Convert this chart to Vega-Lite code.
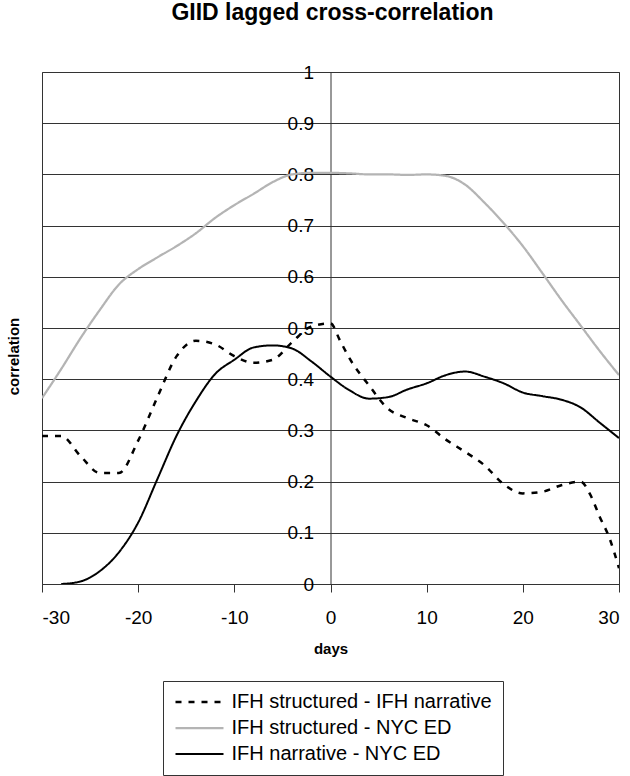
{
  "$schema": "https://vega.github.io/schema/vega-lite/v6.json",
  "autosize": {"type": "none"},
  "width": 577,
  "height": 512,
  "padding": {"left": 42, "top": 72, "right": 11, "bottom": 192},
  "background": "#ffffff",
  "config": {
    "font": "Liberation Sans",
    "view": {"stroke": "#333333", "strokeWidth": 1},
    "axis": {"labelFont": "Liberation Sans", "titleFont": "Liberation Sans", "labelColor": "#000", "titleColor": "#000"}
  },
  "title": {
    "text": "GIID lagged cross-correlation",
    "font": "Liberation Sans",
    "fontSize": 23,
    "fontWeight": "bold",
    "color": "#000",
    "anchor": "middle",
    "offset": 38,
    "dx": 2
  },
  "data": {
    "values": [
      {"day": -30, "r": 0.289, "series": "IFH structured - IFH narrative"},
      {"day": -28, "r": 0.289, "series": "IFH structured - IFH narrative"},
      {"day": -26, "r": 0.25, "series": "IFH structured - IFH narrative"},
      {"day": -24, "r": 0.217, "series": "IFH structured - IFH narrative"},
      {"day": -22, "r": 0.217, "series": "IFH structured - IFH narrative"},
      {"day": -20, "r": 0.28, "series": "IFH structured - IFH narrative"},
      {"day": -18, "r": 0.365, "series": "IFH structured - IFH narrative"},
      {"day": -16, "r": 0.445, "series": "IFH structured - IFH narrative"},
      {"day": -14, "r": 0.475, "series": "IFH structured - IFH narrative"},
      {"day": -12, "r": 0.468, "series": "IFH structured - IFH narrative"},
      {"day": -10, "r": 0.445, "series": "IFH structured - IFH narrative"},
      {"day": -8, "r": 0.432, "series": "IFH structured - IFH narrative"},
      {"day": -6, "r": 0.438, "series": "IFH structured - IFH narrative"},
      {"day": -4, "r": 0.472, "series": "IFH structured - IFH narrative"},
      {"day": -2, "r": 0.503, "series": "IFH structured - IFH narrative"},
      {"day": 0, "r": 0.509, "series": "IFH structured - IFH narrative"},
      {"day": 1, "r": 0.475, "series": "IFH structured - IFH narrative"},
      {"day": 2, "r": 0.44, "series": "IFH structured - IFH narrative"},
      {"day": 4, "r": 0.388, "series": "IFH structured - IFH narrative"},
      {"day": 6, "r": 0.342, "series": "IFH structured - IFH narrative"},
      {"day": 8, "r": 0.324, "series": "IFH structured - IFH narrative"},
      {"day": 10, "r": 0.31, "series": "IFH structured - IFH narrative"},
      {"day": 12, "r": 0.282, "series": "IFH structured - IFH narrative"},
      {"day": 14, "r": 0.258, "series": "IFH structured - IFH narrative"},
      {"day": 16, "r": 0.232, "series": "IFH structured - IFH narrative"},
      {"day": 18, "r": 0.195, "series": "IFH structured - IFH narrative"},
      {"day": 20, "r": 0.177, "series": "IFH structured - IFH narrative"},
      {"day": 22, "r": 0.18, "series": "IFH structured - IFH narrative"},
      {"day": 24, "r": 0.193, "series": "IFH structured - IFH narrative"},
      {"day": 26, "r": 0.2, "series": "IFH structured - IFH narrative"},
      {"day": 27, "r": 0.175, "series": "IFH structured - IFH narrative"},
      {"day": 28, "r": 0.131, "series": "IFH structured - IFH narrative"},
      {"day": 29, "r": 0.09, "series": "IFH structured - IFH narrative"},
      {"day": 30, "r": 0.031, "series": "IFH structured - IFH narrative"},

      {"day": -30, "r": 0.363, "series": "IFH structured - NYC ED"},
      {"day": -28, "r": 0.42, "series": "IFH structured - NYC ED"},
      {"day": -26, "r": 0.48, "series": "IFH structured - NYC ED"},
      {"day": -24, "r": 0.535, "series": "IFH structured - NYC ED"},
      {"day": -22, "r": 0.585, "series": "IFH structured - NYC ED"},
      {"day": -20, "r": 0.615, "series": "IFH structured - NYC ED"},
      {"day": -18, "r": 0.638, "series": "IFH structured - NYC ED"},
      {"day": -16, "r": 0.66, "series": "IFH structured - NYC ED"},
      {"day": -14, "r": 0.685, "series": "IFH structured - NYC ED"},
      {"day": -12, "r": 0.715, "series": "IFH structured - NYC ED"},
      {"day": -10, "r": 0.74, "series": "IFH structured - NYC ED"},
      {"day": -8, "r": 0.762, "series": "IFH structured - NYC ED"},
      {"day": -6, "r": 0.785, "series": "IFH structured - NYC ED"},
      {"day": -4, "r": 0.8, "series": "IFH structured - NYC ED"},
      {"day": -2, "r": 0.803, "series": "IFH structured - NYC ED"},
      {"day": 0, "r": 0.803, "series": "IFH structured - NYC ED"},
      {"day": 2, "r": 0.802, "series": "IFH structured - NYC ED"},
      {"day": 4, "r": 0.8, "series": "IFH structured - NYC ED"},
      {"day": 6, "r": 0.8, "series": "IFH structured - NYC ED"},
      {"day": 8, "r": 0.799, "series": "IFH structured - NYC ED"},
      {"day": 10, "r": 0.8, "series": "IFH structured - NYC ED"},
      {"day": 12, "r": 0.797, "series": "IFH structured - NYC ED"},
      {"day": 14, "r": 0.78, "series": "IFH structured - NYC ED"},
      {"day": 16, "r": 0.745, "series": "IFH structured - NYC ED"},
      {"day": 18, "r": 0.705, "series": "IFH structured - NYC ED"},
      {"day": 20, "r": 0.66, "series": "IFH structured - NYC ED"},
      {"day": 22, "r": 0.608, "series": "IFH structured - NYC ED"},
      {"day": 24, "r": 0.555, "series": "IFH structured - NYC ED"},
      {"day": 26, "r": 0.505, "series": "IFH structured - NYC ED"},
      {"day": 28, "r": 0.455, "series": "IFH structured - NYC ED"},
      {"day": 30, "r": 0.408, "series": "IFH structured - NYC ED"},

      {"day": -28, "r": 0.0, "series": "IFH narrative - NYC ED"},
      {"day": -26, "r": 0.005, "series": "IFH narrative - NYC ED"},
      {"day": -24, "r": 0.025, "series": "IFH narrative - NYC ED"},
      {"day": -22, "r": 0.062, "series": "IFH narrative - NYC ED"},
      {"day": -20, "r": 0.12, "series": "IFH narrative - NYC ED"},
      {"day": -18, "r": 0.205, "series": "IFH narrative - NYC ED"},
      {"day": -16, "r": 0.29, "series": "IFH narrative - NYC ED"},
      {"day": -14, "r": 0.357, "series": "IFH narrative - NYC ED"},
      {"day": -12, "r": 0.41, "series": "IFH narrative - NYC ED"},
      {"day": -10, "r": 0.438, "series": "IFH narrative - NYC ED"},
      {"day": -8, "r": 0.462, "series": "IFH narrative - NYC ED"},
      {"day": -6, "r": 0.466, "series": "IFH narrative - NYC ED"},
      {"day": -4, "r": 0.46, "series": "IFH narrative - NYC ED"},
      {"day": -2, "r": 0.435, "series": "IFH narrative - NYC ED"},
      {"day": 0, "r": 0.405, "series": "IFH narrative - NYC ED"},
      {"day": 2, "r": 0.378, "series": "IFH narrative - NYC ED"},
      {"day": 4, "r": 0.362, "series": "IFH narrative - NYC ED"},
      {"day": 6, "r": 0.365, "series": "IFH narrative - NYC ED"},
      {"day": 8, "r": 0.38, "series": "IFH narrative - NYC ED"},
      {"day": 10, "r": 0.392, "series": "IFH narrative - NYC ED"},
      {"day": 12, "r": 0.408, "series": "IFH narrative - NYC ED"},
      {"day": 14, "r": 0.415, "series": "IFH narrative - NYC ED"},
      {"day": 16, "r": 0.405, "series": "IFH narrative - NYC ED"},
      {"day": 18, "r": 0.392, "series": "IFH narrative - NYC ED"},
      {"day": 20, "r": 0.374, "series": "IFH narrative - NYC ED"},
      {"day": 22, "r": 0.367, "series": "IFH narrative - NYC ED"},
      {"day": 24, "r": 0.36, "series": "IFH narrative - NYC ED"},
      {"day": 26, "r": 0.345, "series": "IFH narrative - NYC ED"},
      {"day": 28, "r": 0.315, "series": "IFH narrative - NYC ED"},
      {"day": 30, "r": 0.285, "series": "IFH narrative - NYC ED"}
    ]
  },
  "mark": {"type": "line", "interpolate": "monotone", "clip": true},
  "encoding": {
    "x": {
      "field": "day", "type": "quantitative",
      "scale": {"domain": [-30, 30], "nice": false, "zero": false},
      "axis": {
        "title": "days", "titleFontSize": 15, "titleFontWeight": "bold", "titlePadding": 14,
        "values": [-30, -20, -10, 0, 10, 20, 30],
        "labelExpr": "'' + datum.value",
        "labelFontSize": 19, "labelPadding": 16, "tickSize": 8, "tickColor": "#333", "domainColor": "#333",
        "grid": false
      }
    },
    "y": {
      "field": "r", "type": "quantitative",
      "scale": {"domain": [0, 1], "nice": false},
      "axis": {
        "title": "correlation", "titleFontSize": 15, "titleFontWeight": "bold",
        "titleX": -317, "titleY": 284, "titleBaseline": "middle", "titleAngle": -90,
        "offset": -288.5,
        "values": [0, 0.1, 0.2, 0.3, 0.4, 0.5, 0.6, 0.7, 0.8, 0.9, 1],
        "labelExpr": "datum.value == 0 ? '0' : datum.value == 1 ? '1' : format(datum.value, '.1f')",
        "labelFontSize": 19, "labelPadding": 11, "tickSize": 6, "tickColor": "#333", "domainColor": "#333",
        "grid": true, "gridColor": "#333", "gridWidth": 1, "gridOpacity": 1
      }
    },
    "color": {
      "field": "series", "type": "nominal",
      "scale": {
        "domain": ["IFH structured - IFH narrative", "IFH structured - NYC ED", "IFH narrative - NYC ED"],
        "range": ["#000000", "#b4b4b4", "#000000"]
      },
      "legend": {
        "title": null, "orient": "none", "legendX": 121, "legendY": 609,
        "direction": "vertical",
        "labelFontSize": 20, "labelFont": "Liberation Sans", "labelColor": "#000", "labelLimit": 500,
        "symbolType": "M-4,0H4", "symbolSize": 144, "symbolStrokeWidth": 2.5,
        "symbolOffset": 15.5, "labelOffset": 22, "padding": 11, "rowPadding": 6,
        "strokeColor": "#333", "fillColor": "#fff"
      }
    },
    "strokeDash": {
      "field": "series", "type": "nominal",
      "scale": {
        "domain": ["IFH structured - IFH narrative", "IFH structured - NYC ED", "IFH narrative - NYC ED"],
        "range": [[6, 7], [1, 0], [1, 0]]
      },
      "legend": {
        "title": null, "orient": "none", "legendX": 121, "legendY": 609,
        "direction": "vertical",
        "labelFontSize": 20, "labelFont": "Liberation Sans", "labelColor": "#000", "labelLimit": 500,
        "symbolType": "M-4,0H4", "symbolSize": 144, "symbolStrokeWidth": 2.5,
        "symbolOffset": 15.5, "labelOffset": 22, "padding": 11, "rowPadding": 6,
        "strokeColor": "#333", "fillColor": "#fff"
      }
    },
    "strokeWidth": {
      "field": "series", "type": "nominal",
      "scale": {
        "domain": ["IFH structured - IFH narrative", "IFH structured - NYC ED", "IFH narrative - NYC ED"],
        "range": [2.5, 2, 1.5]
      },
      "legend": null
    }
  }
}
